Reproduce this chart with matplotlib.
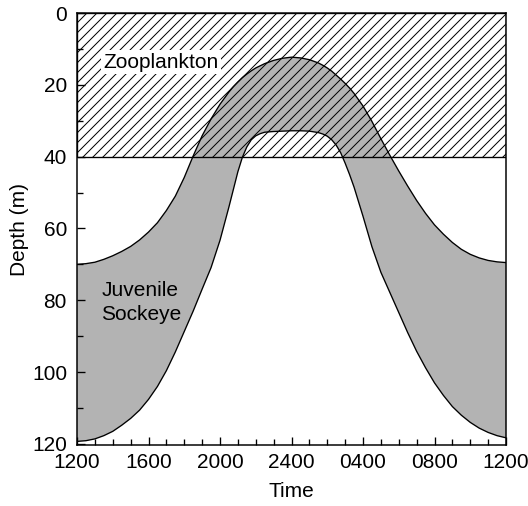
import matplotlib
matplotlib.use("Agg")
import matplotlib.pyplot as plt
import numpy as np

plt.rcParams['font.family'] = ['Liberation Sans', 'DejaVu Sans']
plt.rcParams['font.size'] = 12.5
plt.rcParams['hatch.linewidth'] = 0.6

# Hours after 1200 (noon)
hours = [0, 0.5, 1, 1.5, 2, 2.5, 3, 3.5, 4, 4.5, 5, 5.5, 6, 6.5, 7, 7.5, 8, 8.5,
         8.75, 9, 9.25, 9.5, 9.75, 10, 10.25, 10.5, 11, 11.5, 12, 12.5, 13, 13.5,
         13.75, 14, 14.25, 14.5, 14.75, 15, 15.25, 15.5, 16, 16.5, 17, 17.5, 18,
         18.5, 19, 19.5, 20, 20.5, 21, 21.5, 22, 22.5, 23, 23.5, 24]
# Shallow edge of the juvenile sockeye band (m)
sockeye_top = [70.0, 69.8, 69.4, 68.6, 67.6, 66.4, 65.0, 63.2, 61.0, 58.4, 55.0,
               51.0, 45.8, 39.8, 34.2, 29.5, 25.4, 22.0, 20.5, 19.2, 18.0, 17.0,
               16.1, 15.3, 14.7, 14.1, 13.2, 12.6, 12.3, 12.5, 13.0, 13.9, 14.55,
               15.3, 16.2, 17.3, 18.4, 19.6, 20.9, 22.4, 25.9, 30.2, 35.0, 39.6,
               44.0, 48.2, 52.2, 55.8, 59.0, 61.6, 63.9, 65.8, 67.2, 68.2, 68.9,
               69.3, 69.5]
# Deep edge of the juvenile sockeye band (m)
sockeye_bottom = [119.3, 119.1, 118.6, 117.7, 116.5, 114.8, 112.9, 110.6, 107.6,
                  104.0, 99.6, 94.4, 88.7, 83.0, 76.9, 70.9, 63.3, 54.0, 49.1,
                  44.2, 40.2, 37.3, 35.3, 34.2, 33.6, 33.2, 33.0, 32.9, 32.8,
                  32.8, 32.9, 33.3, 33.7, 34.3, 35.3, 36.8, 38.9, 41.8, 45.0,
                  48.5, 56.6, 65.1, 72.2, 77.8, 83.4, 89.0, 94.2, 98.8, 103.0,
                  106.5, 109.6, 112.0, 114.0, 115.6, 116.8, 117.7, 118.3]
# Zooplankton layer (m)
zoo_top = 0
zoo_bottom = 40

xtick_pos = [0, 4, 8, 12, 16, 20, 24]
xtick_labels = ['1200', '1600', '2000', '2400', '0400', '0800', '1200']
ytick_pos = [0, 20, 40, 60, 80, 100, 120]

fig = plt.figure(figsize=(528 / 120, 506 / 120), dpi=120)
ax = fig.add_axes([77 / 528, 1 - 445 / 506, (506 - 77) / 528, (445 - 13) / 506])

ax.fill_between(hours, sockeye_top, sockeye_bottom, facecolor='#b3b3b3',
                edgecolor='none', zorder=1)
ax.axhspan(zoo_top, zoo_bottom, facecolor='none', edgecolor='black',
           hatch='////', linewidth=0.8, zorder=2)
ax.plot(hours, sockeye_top, color='black', linewidth=0.8, zorder=3)
ax.plot(hours, sockeye_bottom, color='black', linewidth=0.8, zorder=3)

ax.text(4.7, 13.7, 'Zooplankton', ha='center', va='center', zorder=4,
        bbox=dict(facecolor='white', edgecolor='none', pad=1.5))
ax.text(1.35, 80.6, 'Juvenile\nSockeye', ha='left', va='center', zorder=4,
        linespacing=1.3)

ax.set_xlim(0, 24)
ax.set_ylim(120.3, 0)
ax.set_xticks(xtick_pos)
ax.set_xticklabels(xtick_labels)
ax.set_xticks(np.arange(0, 25, 1), minor=True)
ax.set_yticks(ytick_pos)
ax.set_yticks(np.arange(0, 121, 10), minor=True)
ax.tick_params(which='both', direction='in', top=False, right=False)
ax.tick_params(which='major', length=5, width=0.8)
ax.tick_params(which='minor', length=3.5, width=0.8)
ax.tick_params(axis='y', pad=6)
ax.tick_params(axis='x', pad=5)
for s in ax.spines.values():
    s.set_linewidth(0.9)

ax.set_xlabel('Time', labelpad=6)
ax.set_ylabel('Depth (m)', labelpad=2)

fig.savefig('out.png', dpi=120)
